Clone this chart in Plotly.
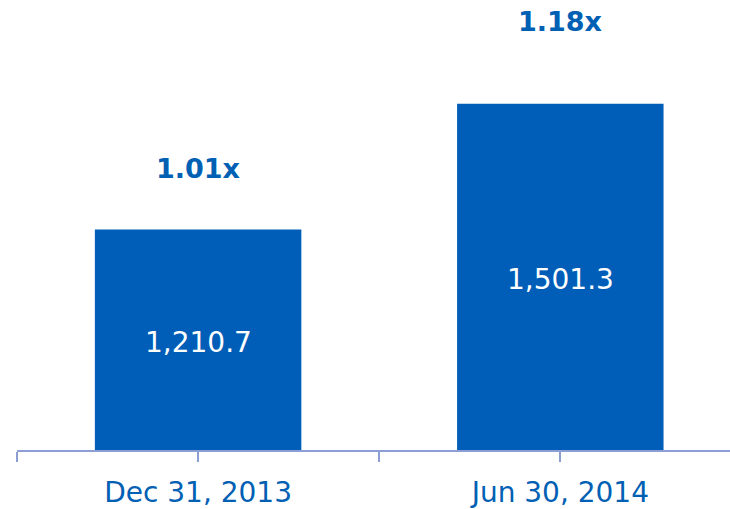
import plotly.graph_objects as go

categories = ["Dec 31, 2013", "Jun 30, 2014"]
values = [1210.7, 1501.3]
multiples = ["1.01x", "1.18x"]

BAR = "#005EB8"
TXT = "#0060B4"
AXIS = "#8C9ED3"
FONT = "Verdana, DejaVu Sans, sans-serif"

y_min, y_max = 700.4, 1741.6
xs = list(range(len(categories)))

fig = go.Figure(go.Bar(x=xs, y=values, width=0.57, marker=dict(color=BAR, line=dict(width=0)),
                       hoverinfo="skip"))

ann = []
shifts = [43, 65]
for i, (v, m) in enumerate(zip(values, multiples)):
    ann.append(dict(x=i, y=(y_min + v) / 2, yshift=-3, text=f"{v:,.1f}", showarrow=False,
                    font=dict(family=FONT, size=28, color="white"), xref="x", yref="y"))
    ann.append(dict(x=i, y=v, text=f"<b>{m}</b>", showarrow=False, yanchor="bottom",
                    yshift=shifts[i], font=dict(family=FONT, size=27, color=TXT),
                    xref="x", yref="y"))

tickvals = [-0.5, 0, 0.5, 1, 1.5]
ticktext = ["", categories[0], "", categories[1], ""]

fig.update_layout(
    width=730, height=509,
    margin=dict(l=17, r=0, t=0, b=54),
    paper_bgcolor="white", plot_bgcolor="white",
    showlegend=False,
    annotations=ann,
    xaxis=dict(range=[-0.5, 1.4685], tickmode="array", tickvals=tickvals, ticktext=ticktext,
               showline=True, linecolor=AXIS, linewidth=2, ticks="outside", ticklen=10,
               tickwidth=2, tickcolor=AXIS, showgrid=False, zeroline=False,
               ticklabelstandoff=6,
               tickfont=dict(family=FONT, size=28, color=TXT)),
    yaxis=dict(range=[y_min, y_max], visible=False, showgrid=False, zeroline=False),
)

fig.write_html("out.html", config={"displayModeBar": False},
               post_script="document.body.style.margin='0';document.body.style.padding='0';")
